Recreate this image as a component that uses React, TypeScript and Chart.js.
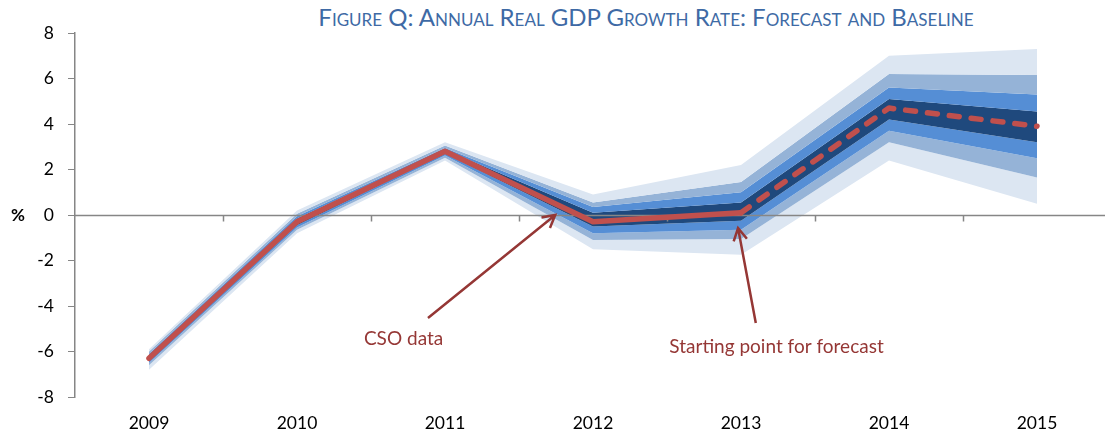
import React, { useEffect, useRef } from "react";
import { Chart, registerables } from "chart.js";

Chart.register(...registerables);

const years = ["2009", "2010", "2011", "2012", "2013", "2014", "2015"];
const outturn = [-6.3, -0.3, 2.8, -0.3, 0.1, null, null];
const forecast = [null, null, null, null, 0.1, 4.7, 3.9];

// fan band boundaries, from top to bottom
const outerTop = [-5.9, 0.2, 3.2, 0.9, 2.2, 7.0, 7.3];
const midTop = [-6.0, 0.05, 3.05, 0.55, 1.45, 6.2, 6.15];
const innerTop = [-6.1, -0.05, 2.95, 0.35, 1.0, 5.6, 5.3];
const coreTop = [-6.2, -0.15, 2.87, 0.1, 0.55, 5.1, 4.55];
const coreBottom = [-6.4, -0.45, 2.7, -0.5, -0.25, 4.2, 3.2];
const innerBottom = [-6.5, -0.55, 2.62, -0.8, -0.65, 3.7, 2.5];
const midBottom = [-6.6, -0.65, 2.52, -1.1, -1.05, 3.2, 1.65];
const outerBottom = [-6.8, -0.8, 2.4, -1.5, -1.75, 2.4, 0.5];

const yTicks = [-8, -6, -4, -2, 0, 2, 4, 6, 8];

const titleText = "Figure Q: Annual Real GDP Growth Rate: Forecast and Baseline";
const noteLabels = ["CSO data", "Starting point for forecast"];
// [label x index, label value, arrow tail index, tail value, arrow tip index, tip value]
const noteCso = [1.72, -5.45, 1.885, -4.53, 2.745, 0.0];
const noteStart = [4.24, -5.78, 4.1, -4.75, 3.98, -0.57];

const LIGHT = "#DCE6F2";
const MID = "#95B3D7";
const INNER = "#558ED5";
const CORE = "#1F497D";
const RED = "#C0504D";
const NOTE = "#953735";
const AXIS = "#868686";
const FONT = "Lato, 'Open Sans', sans-serif";

const overlayPlugin = {
  id: "overlay",
  afterDatasetDraw(chart: any, args: any) {
    if (args.index !== 2) return;
    const ctx = chart.ctx;
    const x = chart.scales.x;
    const y = chart.scales.y;
    const y0 = Math.round(y.getPixelForValue(0)) + 0.5;
    ctx.save();
    ctx.strokeStyle = AXIS;
    ctx.lineWidth = 1.5;
    ctx.beginPath();
    ctx.moveTo(chart.chartArea.left, y0);
    ctx.lineTo(chart.chartArea.right, y0);
    for (let k = 1; k <= years.length; k++) {
      const bx = Math.round(x.getPixelForValue(k - 0.5)) + 0.5;
      ctx.moveTo(bx, y0);
      ctx.lineTo(bx, y0 + 6);
    }
    ctx.stroke();
    ctx.restore();
  },
  afterDraw(chart: any) {
    const ctx = chart.ctx;
    const x = chart.scales.x;
    const y = chart.scales.y;
    ctx.save();
    ctx.fillStyle = "#000";
    ctx.font = `bold 17px ${FONT}`;
    ctx.textAlign = "center";
    ctx.textBaseline = "middle";
    ctx.fillText("%", 18, y.getPixelForValue(0) + 1);

    const notes = [noteCso, noteStart];
    notes.forEach((n, i) => {
      const lx = x.getPixelForValue(n[0]);
      const ly = y.getPixelForValue(n[1]);
      ctx.fillStyle = NOTE;
      ctx.font = `19px ${FONT}`;
      ctx.textAlign = "center";
      ctx.textBaseline = "middle";
      ctx.fillText(noteLabels[i], lx, ly);
      const tx = x.getPixelForValue(n[2]);
      const ty = y.getPixelForValue(n[3]);
      const hx = x.getPixelForValue(n[4]);
      const hy = y.getPixelForValue(n[5]);
      ctx.strokeStyle = NOTE;
      ctx.lineWidth = 2.5;
      ctx.lineCap = "butt";
      ctx.beginPath();
      ctx.moveTo(tx, ty);
      ctx.lineTo(hx, hy);
      const ang = Math.atan2(hy - ty, hx - tx);
      const len = 14;
      const spread = 0.5;
      ctx.moveTo(hx - len * Math.cos(ang - spread), hy - len * Math.sin(ang - spread));
      ctx.lineTo(hx, hy);
      ctx.lineTo(hx - len * Math.cos(ang + spread), hy - len * Math.sin(ang + spread));
      ctx.stroke();
    });
    ctx.restore();
  },
};

function band(data: number[], color: string | null) {
  return {
    data,
    borderWidth: 0,
    pointRadius: 0,
    backgroundColor: color || "transparent",
    borderColor: "transparent",
    fill: color ? "+1" : false,
    tension: 0,
  };
}

export default function App() {
  const ref = useRef<HTMLCanvasElement>(null);
  useEffect(() => {
    if (!ref.current) return;
    const chart = new Chart(ref.current, {
      type: "line",
      data: {
        labels: years,
        datasets: [
          {
            data: outturn,
            borderColor: RED,
            borderWidth: 5.5,
            pointRadius: 0,
            fill: false,
            borderCapStyle: "round",
            borderJoinStyle: "round",
            spanGaps: false,
          } as any,
          {
            data: forecast,
            borderColor: RED,
            borderWidth: 5.5,
            pointRadius: 0,
            fill: false,
            borderDash: [10, 12],
            borderCapStyle: "round",
            borderJoinStyle: "round",
          } as any,
          band(outerTop, LIGHT),
          band(midTop, MID),
          band(innerTop, INNER),
          band(coreTop, CORE),
          band(coreBottom, INNER),
          band(innerBottom, MID),
          band(midBottom, LIGHT),
          band(outerBottom, null),
        ],
      },
      options: {
        animation: false,
        responsive: false,
        maintainAspectRatio: false,
        layout: { padding: { top: 33, right: 0, bottom: 0, left: 0 } },
        plugins: { legend: { display: false }, tooltip: { enabled: false } },
        scales: {
          x: {
            type: "category",
            offset: true,
            grid: { display: false, drawTicks: false },
            border: { display: false },
            ticks: { color: "#000", font: { family: FONT, size: 17.5 }, padding: 16, maxRotation: 0 },
            afterFit: (s: any) => { s.height = 41; },
          },
          y: {
            min: -8,
            max: 8,
            afterBuildTicks: (s: any) => { s.ticks = yTicks.map((v) => ({ value: v })); },
            grid: { drawOnChartArea: false, drawTicks: true, tickLength: 7, color: AXIS },
            border: { display: true, color: AXIS, width: 1.5 },
            ticks: { color: "#000", font: { family: FONT, size: 17.5 }, padding: 14 },
            afterFit: (s: any) => { s.width = 75; },
          },
        },
      },
      plugins: [overlayPlugin],
    });
    return () => chart.destroy();
  }, []);

  return (
    <div style={{ position: "fixed", left: 0, top: 0, width: 1105, height: 438, overflow: "hidden", background: "#fff" }}>
      <div
        style={{
          position: "absolute",
          left: 646,
          top: 3,
          transform: "translateX(-50%)",
          whiteSpace: "nowrap",
          fontFamily: FONT,
          fontVariant: "small-caps",
          fontSize: 24,
          color: "#3E6AA5",
          lineHeight: "28px",
        }}
      >
        {titleText}
      </div>
      <canvas ref={ref} width={1111} height={438} style={{ position: "absolute", left: 0, top: 0, width: 1111, height: 438 }} />
    </div>
  );
}
